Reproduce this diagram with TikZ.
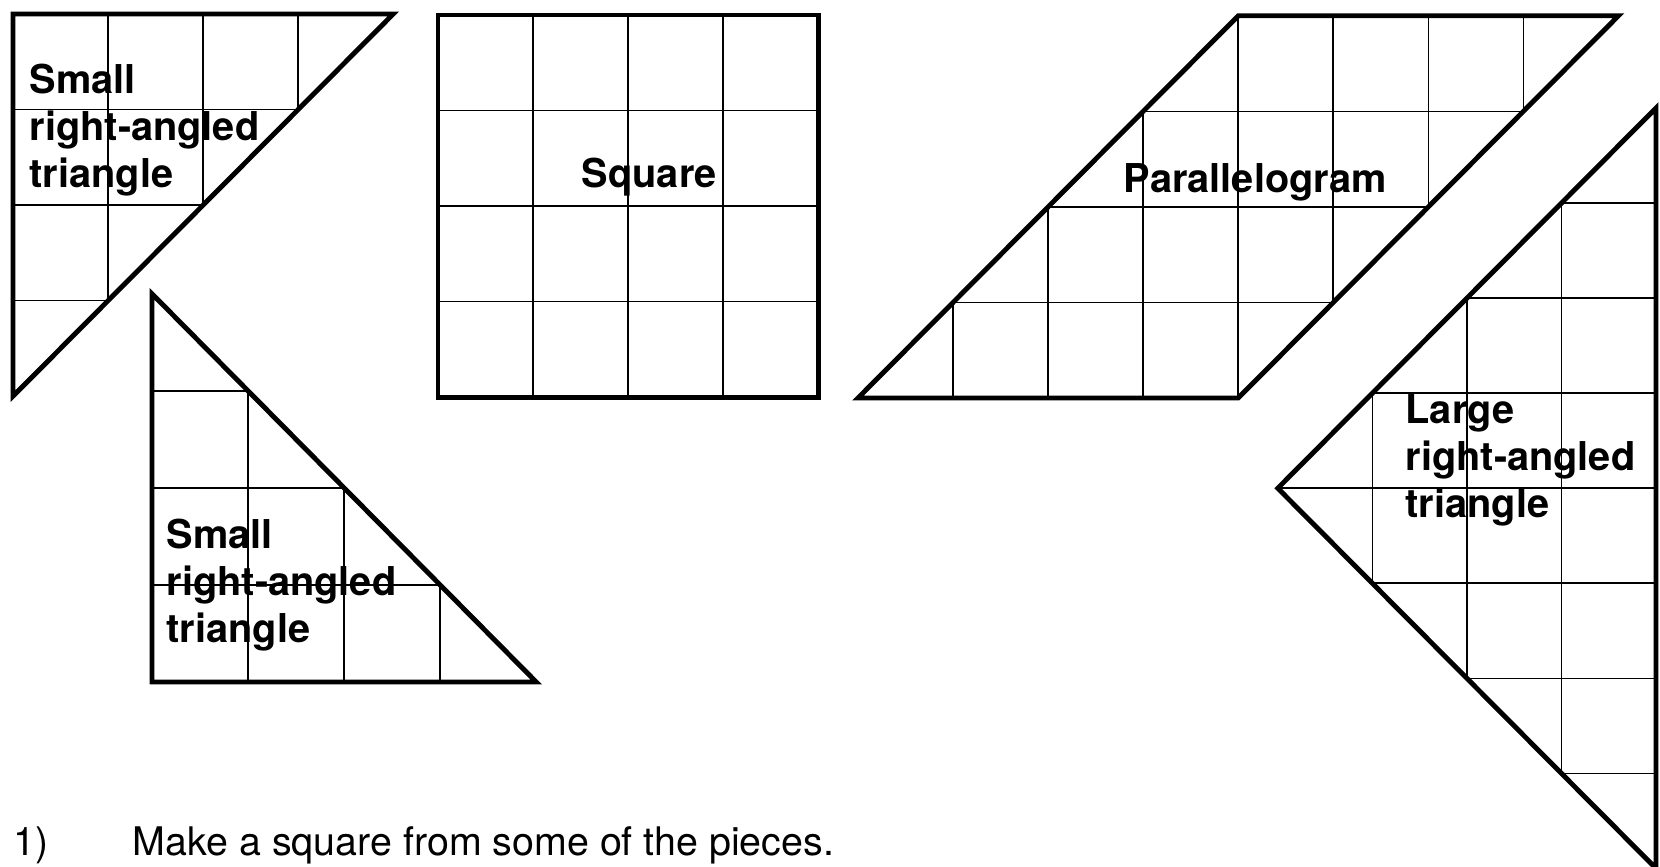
\documentclass[tikz,border=0pt]{standalone}
\usepackage{fontspec}
\setmainfont{TeX Gyre Heros}
\usetikzlibrary{positioning}

\begin{document}
\begin{tikzpicture}[
    x=0.01cm, y=-0.01cm,
    piece/.style={draw=black, line width=1.4pt},
    gridline/.style={draw=black, line width=0.45pt},
    piecetext/.style={font=\fontsize{11.3}{13.4}\selectfont\bfseries, align=left, inner sep=0pt},
    task/.style={font=\fontsize{11.2}{13.4}\selectfont, inner sep=0pt, anchor=base west},
  ]
  \useasboundingbox (0,0) rectangle (1660,866);

  % Small triangle, top left
  \begin{scope}[shift={(13,14)}, x=0.95cm, y=-0.955cm]
    \begin{scope}
      \clip (0,0) -- (4,0) -- (0,4) -- cycle;
      \foreach \i in {1,2,3} {
        \draw[gridline] (\i,0) -- (\i,4);
        \draw[gridline] (0,\i) -- (4,\i);
      }
    \end{scope}
    \draw[piece] (0,0) -- (4,0) -- (0,4) -- cycle;
  \end{scope}
  \node[piecetext, anchor=north west] (smalltop) at (29,63) {Small\\right-angled\\triangle};

  % Small triangle, bottom left
  \begin{scope}[shift={(152,682)}, x=0.96cm, y=0.97cm]
    \begin{scope}
      \clip (0,0) -- (4,0) -- (0,4) -- cycle;
      \foreach \i in {1,2,3} {
        \draw[gridline] (\i,0) -- (\i,4);
        \draw[gridline] (0,\i) -- (4,\i);
      }
    \end{scope}
    \draw[piece] (0,0) -- (4,0) -- (0,4) -- cycle;
  \end{scope}
  \node[piecetext, anchor=north west] (smallbottom) at (166,518) {Small\\right-angled\\triangle};

  % Square
  \begin{scope}[shift={(438,15)}, x=0.95cm, y=-0.955cm]
    \foreach \i in {1,2,3} {
      \draw[gridline] (\i,0) -- (\i,4);
      \draw[gridline] (0,\i) -- (4,\i);
    }
    \draw[piece] (0,0) rectangle (4,4);
  \end{scope}
  \node[piecetext, anchor=base west] (square) at (581,187) {Square};

  % Parallelogram
  \begin{scope}[shift={(858,398)}, x=0.95cm, y=0.955cm]
    \begin{scope}
      \clip (0,0) -- (4,0) -- (8,4) -- (4,4) -- cycle;
      \foreach \i in {1,...,7}
        \draw[gridline] (\i,0) -- (\i,4);
      \foreach \i in {1,2,3}
        \draw[gridline] (0,\i) -- (8,\i);
    \end{scope}
    \draw[piece] (0,0) -- (4,0) -- (8,4) -- (4,4) -- cycle;
  \end{scope}
  \node[piecetext, anchor=base west] (para) at (1123,192) {Parallelogram};

  % Large triangle
  \begin{scope}[shift={(1656,108)}, x=0.945cm, y=-0.95cm]
    \begin{scope}
      \clip (0,0) -- (0,8) -- (-4,4) -- cycle;
      \foreach \i in {1,2,3}
        \draw[gridline] (-\i,0) -- (-\i,8);
      \foreach \i in {1,...,7}
        \draw[gridline] (-4,\i) -- (0,\i);
    \end{scope}
    \draw[piece] (0,0) -- (0,8) -- (-4,4) -- cycle;
  \end{scope}
  \node[piecetext, anchor=north west] (large) at (1405,394) {Large\\right-angled\\triangle};

  % Task
  \node[task] (task) at (13,855) {\makebox[1.19cm][l]{1)}Make a square from some of the pieces.};
\end{tikzpicture}
\end{document}
